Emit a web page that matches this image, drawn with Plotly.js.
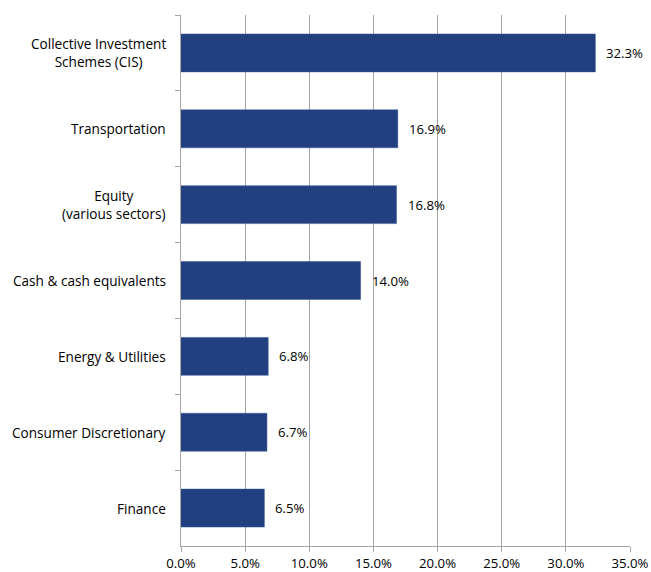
<!DOCTYPE html>
<html>
<head>
<meta charset="utf-8">
<script src="https://cdn.plot.ly/plotly-3.0.1.min.js"></script>
<style>html,body{margin:0;padding:0;background:#fff;}#chart{width:651px;height:572px;}</style>
</head>
<body>
<div id="chart"></div>
<script>
var categories = ["Collective Investment<br>Schemes (CIS)", "Transportation", "Equity<br>(various sectors)", "Cash & cash equivalents", "Energy & Utilities", "Consumer Discretionary", "Finance"];
var values = [32.3, 16.9, 16.8, 14.0, 6.8, 6.7, 6.5];
var valueLabels = ["32.3%", "16.9%", "16.8%", "14.0%", "6.8%", "6.7%", "6.5%"];
var xTickVals = [0, 5, 10, 15, 20, 25, 30, 35];
var xTickText = ["0.0%", "5.0%", "10.0%", "15.0%", "20.0%", "25.0%", "30.0%", "35.0%"];

var font = "Open Sans, Liberation Sans, sans-serif";
var annotations = [];
categories.forEach(function (c, i) {
  annotations.push({
    x: 0, y: c, xref: "paper", yref: "y", text: c, showarrow: false,
    xanchor: "right", yanchor: "middle", align: "center", xshift: -13,
    font: {family: font, size: 13.6, color: "#000"}
  });
  annotations.push({
    x: values[i], y: c, xref: "x", yref: "y", text: valueLabels[i], showarrow: false,
    xanchor: "left", yanchor: "middle", xshift: 9,
    font: {family: font, size: 13.2, color: "#000"}
  });
});

var trace = {
  type: "bar", orientation: "h",
  x: values, y: categories,
  marker: {color: "#223F7F", line: {color: "#3A5796", width: 0.5}},
  hoverinfo: "none"
};

var layout = {
  width: 651, height: 572,
  margin: {l: 181, r: 21, t: 15, b: 26},
  paper_bgcolor: "#fff", plot_bgcolor: "#fff",
  bargap: 0.5,
  showlegend: false,
  font: {family: font, size: 13, color: "#000"},
  xaxis: {
    range: [0, 35], tickvals: xTickVals, ticktext: xTickText,
    showgrid: true, gridcolor: "#A6A6A6", gridwidth: 1,
    zeroline: false, showline: true, linecolor: "#A6A6A6", linewidth: 1,
    ticks: "outside", ticklen: 5, tickcolor: "#A6A6A6",
    tickfont: {family: font, size: 13.2, color: "#000"}, fixedrange: true
  },
  yaxis: {
    type: "category", categoryorder: "array", categoryarray: categories,
    range: [6.5, -0.5],
    showgrid: false, zeroline: false, showline: true, linecolor: "#A6A6A6", linewidth: 1,
    ticks: "outside", ticklen: 5, tickcolor: "#A6A6A6", tickson: "boundaries",
    showticklabels: false, fixedrange: true
  },
  annotations: annotations
};

Plotly.newPlot("chart", [trace], layout, {displayModeBar: false, staticPlot: true});
</script>
</body>
</html>
